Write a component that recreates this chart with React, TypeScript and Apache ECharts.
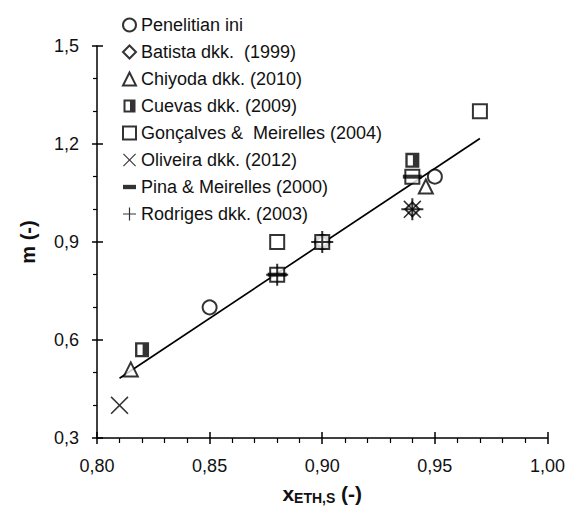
import React, { useEffect, useRef } from "react";
import * as echarts from "echarts";

// Study names shown in the legend
const studies = [
  "Penelitian ini",
  "Batista dkk.  (1999)",
  "Chiyoda dkk. (2010)",
  "Cuevas dkk. (2009)",
  "Gonçalves &  Meirelles (2004)",
  "Oliveira dkk. (2012)",
  "Pina & Meirelles (2000)",
  "Rodriges dkk. (2003)",
];

// [x_ETH,S, m] pairs per study
const penelitianIni = [[0.85, 0.70], [0.90, 0.90], [0.95, 1.10]];
const batista = [[0.90, 0.90], [0.94, 1.00]];
const chiyoda = [[0.815, 0.51], [0.946, 1.07]];
const cuevas = [[0.82, 0.57], [0.94, 1.15]];
const goncalves = [[0.88, 0.80], [0.88, 0.90], [0.90, 0.90], [0.94, 1.10], [0.97, 1.30]];
const oliveira = [[0.81, 0.40], [0.94, 1.00]];
const pina = [[0.88, 0.80], [0.94, 1.10]];
const rodriges = [[0.88, 0.80], [0.90, 0.90], [0.94, 1.00]];

// Linear fit drawn across the data range
const fitLine = [[0.81, 0.483], [0.97, 1.217]];

const FONT = "'Liberation Sans', Arial, sans-serif";

const HALF_SQUARE = "path://M0,0H12V13H0Z M2,2V11H6.5V2Z";
const CROSS =
  "path://M0,1.2L1.2,0L10,8.8L18.8,0L20,1.2L11.2,10L20,18.8L18.8,20L10,11.2L1.2,20L0,18.8L8.8,10Z";
const PLUS = "path://M10,0H12V10H22V12H12V22H10V12H0V10H10Z";
const DASH = "path://M0,0H12V4H0Z";

export default function App() {
  const ref = useRef<HTMLDivElement>(null);

  useEffect(() => {
    if (!ref.current) return;
    const chart = echarts.init(ref.current, null, { renderer: "svg" });

    const emptyStyle = { color: "#000", borderColor: "#000", borderWidth: 2 };
    const solidStyle = { color: "#000", borderWidth: 0 };

    const mk = (name: string, data: number[][], symbol: string, size: any, style: any, z = 3) => ({
      type: "scatter",
      name,
      data,
      symbol,
      symbolSize: size,
      itemStyle: style,
      xAxisIndex: 0,
      yAxisIndex: 0,
      z,
    });

    const xFmt = (v: number) => v.toFixed(2).replace(".", ",");
    const yFmt = (v: number) => v.toFixed(1).replace(".", ",");

    const axisLine = { show: true, lineStyle: { color: "#000", width: 1.5 } };

    chart.setOption({
      animation: false,
      grid: { left: 89, right: 19, top: 38, bottom: 63 },
      legend: {
        orient: "vertical",
        left: 109,
        top: 3,
        itemWidth: 13,
        itemHeight: 13,
        itemGap: 9,
        textStyle: { fontSize: 18, color: "#111", fontFamily: FONT },
        data: [
          { name: studies[0], icon: "emptyCircle" },
          { name: studies[1], icon: "emptyDiamond" },
          { name: studies[2], icon: "emptyTriangle" },
          { name: studies[3], icon: HALF_SQUARE },
          { name: studies[4], icon: "emptyRect" },
          { name: studies[5], icon: CROSS },
          { name: studies[6], icon: DASH },
          { name: studies[7], icon: PLUS },
        ],
      },
      xAxis: [
        {
          type: "value",
          position: "bottom",
          min: 0.8,
          max: 1.0,
          interval: 0.05,
          axisLine,
          axisTick: { show: true, length: 6, lineStyle: { color: "#000", width: 1.5 } },
          minorTick: { show: true, splitNumber: 5, length: 5, lineStyle: { color: "#000", width: 1.2 } },
          splitLine: { show: false },
          axisLabel: { formatter: xFmt, fontSize: 18, color: "#111", fontFamily: FONT, margin: 19 },
          name: "{x|x}{sub|ETH,S}{x| (-)}",
          nameLocation: "middle",
          nameGap: 44,
          nameTextStyle: {
            rich: {
              x: { fontSize: 21, fontWeight: "bold", color: "#111", fontFamily: FONT },
              sub: { fontSize: 14, fontWeight: "bold", color: "#111", fontFamily: FONT, padding: [9, 0, 0, 0] },
            },
          },
        },
        {
          type: "value",
          position: "bottom",
          min: 0.8,
          max: 1.0,
          interval: 0.05,
          axisLine: { show: false },
          axisTick: { show: true, inside: true, length: 6, lineStyle: { color: "#000", width: 1.5 } },
          axisLabel: { show: false },
          splitLine: { show: false },
        },
      ],
      yAxis: [
        {
          type: "value",
          position: "left",
          min: 0.3,
          max: 1.5,
          interval: 0.3,
          axisLine,
          axisTick: { show: true, length: 5, lineStyle: { color: "#000", width: 1.5 } },
          minorTick: { show: true, splitNumber: 3, length: 4, lineStyle: { color: "#000", width: 1.2 } },
          splitLine: { show: false },
          axisLabel: { formatter: yFmt, fontSize: 18, color: "#111", fontFamily: FONT, margin: 18 },
          name: "m (-)",
          nameLocation: "middle",
          nameGap: 59,
          nameTextStyle: { fontSize: 20, fontWeight: "bold", color: "#111", fontFamily: FONT },
        },
        {
          type: "value",
          position: "left",
          min: 0.3,
          max: 1.5,
          interval: 0.3,
          axisLine: { show: false },
          axisTick: { show: true, inside: true, length: 6, lineStyle: { color: "#000", width: 1.5 } },
          axisLabel: { show: false },
          splitLine: { show: false },
        },
      ],
      series: [
        {
          type: "line",
          name: "fit",
          data: fitLine,
          symbol: "none",
          lineStyle: { color: "#000", width: 1.7 },
          xAxisIndex: 0,
          yAxisIndex: 0,
          z: 2,
        },
        mk(studies[0], penelitianIni, "emptyCircle", 14, emptyStyle),
        mk(studies[1], batista, "emptyDiamond", 14, emptyStyle),
        mk(studies[2], chiyoda, "emptyTriangle", 14, emptyStyle),
        mk(studies[3], cuevas, HALF_SQUARE, [14, 15], solidStyle),
        mk(studies[4], goncalves, "emptyRect", 14, emptyStyle),
        mk(studies[5], oliveira, CROSS, 18, solidStyle),
        mk(studies[6], pina, "rect", [19, 4], solidStyle),
        mk(studies[7], rodriges, PLUS, 22, solidStyle),
      ],
    });

    return () => chart.dispose();
  }, []);

  return <div ref={ref} style={{ width: 560, height: 502 }} />;
}
